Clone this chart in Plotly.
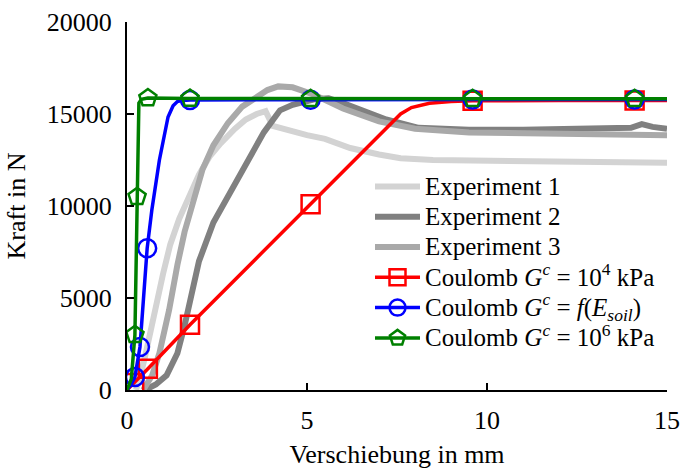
import plotly.graph_objects as go

# Measured force-displacement curves (displacement in mm, force in N)
exp1_x = [0.25, 0.35, 0.5, 0.65, 0.8, 1.0, 1.2, 1.45, 1.7, 2.0, 2.3, 2.6, 3.0, 3.3, 3.6, 3.85,
          4.05, 4.5, 5.0, 5.5, 6.2, 7.0, 7.6, 8.5, 10.0, 12.0, 15.0]
exp1_y = [0, 600, 1800, 3200, 4500, 6300, 7900, 9300, 10400, 11700, 12700, 13400, 14200, 14700, 15000, 15150,
          14350, 14100, 13850, 13650, 13150, 12800, 12600, 12500, 12450, 12400, 12350]

exp2_x = [0.5, 0.8, 1.1, 1.4, 1.6, 1.8, 2.0, 2.4, 2.9, 3.3, 3.8, 4.25, 4.6, 5.2, 5.6, 6.0, 6.5, 7.2,
          8.1, 9.5, 11.0, 13.0, 14.0, 14.3, 14.6, 15.0]
exp2_y = [0, 300, 800, 2000, 3500, 5300, 7000, 9100, 10800, 12300, 14000, 15200, 15500, 15800, 15850, 15600,
          15200, 14700, 14250, 14150, 14150, 14200, 14250, 14450, 14300, 14200]

exp3_x = [0.45, 0.7, 0.9, 1.17, 1.4, 1.6, 1.85, 2.1, 2.4, 2.8, 3.2, 3.6, 3.9, 4.2, 4.6, 5.2, 6.0, 7.0,
          8.0, 9.5, 11.0, 13.0, 15.0]
exp3_y = [0, 800, 2000, 4350, 6800, 8600, 10300, 12000, 13300, 14500, 15400, 15900, 16300, 16500, 16450,
          16050, 15300, 14600, 14200, 14000, 13950, 13900, 13850]

# Simulated curves, Coulomb friction with different interface stiffness
red_x = [0, 0.2, 0.58, 1.75, 5.1, 6.5, 7.2, 7.6, 7.9, 8.4, 9.0, 9.6, 12.0, 14.1, 15.0]
red_y = [0, 380, 1150, 3550, 10100, 12840, 14210, 15000, 15350, 15580, 15680, 15720, 15730, 15740, 15740]
red_marks = [1, 2, 3, 4, 11, 13]

blue_x = [0, 0.1, 0.22, 0.36, 0.56, 0.69, 0.9, 1.14, 1.28, 1.4, 1.55, 1.75, 5.1, 9.6, 14.1, 15.0]
blue_y = [0, 250, 700, 2340, 7700, 9780, 12500, 14840, 15450, 15680, 15740, 15760, 15780, 15790, 15790, 15790]
blue_marks = [2, 3, 4, 11, 12, 13, 14]

green_x = [0, 0.12, 0.22, 0.28, 0.33, 0.4, 0.58, 1.75, 5.1, 9.6, 14.1, 15.0]
green_y = [0, 600, 3000, 10500, 15600, 15800, 15870, 15840, 15830, 15830, 15830, 15830]
green_marks = [2, 3, 6, 7, 8, 9, 10]

x_ticks = [0, 5, 10, 15]
y_ticks = [0, 5000, 10000, 15000, 20000]

FONT = "Liberation Serif"


def lbl(text):
    return '<span style="font-size:25px">' + text + '</span>'


names = [
    lbl("Experiment 1"),
    lbl("Experiment 2"),
    lbl("Experiment 3"),
    lbl("Coulomb <i>G<sup>c</sup></i> = 10<sup>4</sup> kPa"),
    lbl("Coulomb <i>G<sup>c</sup></i> = <i>f</i>(<i>E<sub>soil</sub></i>)"),
    lbl("Coulomb <i>G<sup>c</sup></i> = 10<sup>6</sup> kPa"),
]

fig = go.Figure()

for (xs, ys, col, nm) in [(exp1_x, exp1_y, "#d3d3d3", names[0]),
                          (exp2_x, exp2_y, "#808080", names[1]),
                          (exp3_x, exp3_y, "#a9a9a9", names[2])]:
    fig.add_trace(go.Scatter(x=xs, y=ys, mode="lines", name=nm,
                             line=dict(color=col, width=6)))

models = [
    (red_x, red_y, red_marks, "red", "square-open", names[3]),
    (blue_x, blue_y, blue_marks, "blue", "circle-open", names[4]),
    (green_x, green_y, green_marks, "green", "pentagon-open", names[5]),
]

for xs, ys, idx, col, sym, nm in models:
    fig.add_trace(go.Scatter(x=xs, y=ys, mode="lines", showlegend=False,
                             line=dict(color=col, width=3.5)))
    fig.add_trace(go.Scatter(x=[xs[i] for i in idx], y=[ys[i] for i in idx],
                             mode="markers", showlegend=False,
                             marker=dict(symbol=sym, size=18, color=col,
                                         line=dict(color=col, width=2.5))))

for xs, ys, idx, col, sym, nm in models:
    fig.add_trace(go.Scatter(x=[None], y=[None], mode="lines+markers", name=nm,
                             line=dict(color=col, width=3.5),
                             marker=dict(symbol=sym, size=16, color=col,
                                         line=dict(color=col, width=2.5))))

axis_common = dict(
    showgrid=False, zeroline=False, showline=True, linecolor="black", linewidth=2,
    ticks="inside", ticklen=7, tickwidth=2, tickcolor="black",
    tickfont=dict(family=FONT, size=26, color="black"),
    mirror=False, automargin=False,
)

fig.update_xaxes(range=[0, 15], tickvals=x_ticks, ticklabelstandoff=6,
                 title=dict(text="Verschiebung in mm", font=dict(family=FONT, size=26, color="black"),
                            standoff=30),
                 **axis_common)
fig.update_yaxes(range=[0, 20000], tickvals=y_ticks, tickformat="d", ticklabelstandoff=8,
                 title=dict(text="Kraft in N", font=dict(family=FONT, size=26, color="black"),
                            standoff=14),
                 **axis_common)

fig.update_layout(
    width=682, height=469,
    margin=dict(l=127, r=15, t=22, b=79),
    paper_bgcolor="white", plot_bgcolor="white",
    font=dict(family=FONT, color="black"),
    legend=dict(x=0.45, y=0.608, xanchor="left", yanchor="top",
                bgcolor="rgba(255,255,255,0)", borderwidth=0,
                font=dict(family=FONT, size=21, color="black"),
                itemwidth=45, traceorder="normal"),
)

fig.write_html("out.html")
